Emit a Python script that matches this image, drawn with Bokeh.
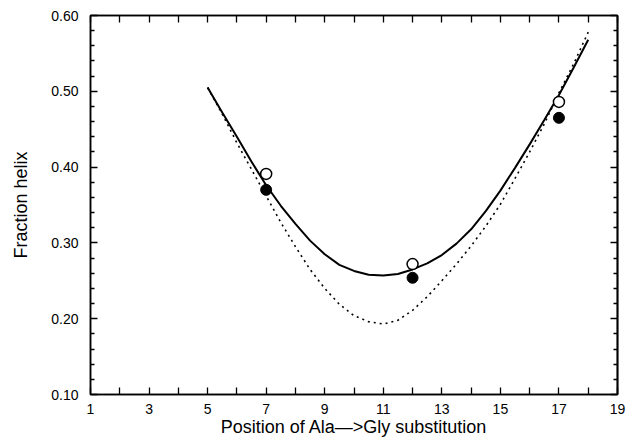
from bokeh.plotting import figure
from bokeh.models import LinearAxis, FixedTicker, Range1d
from bokeh.embed import file_html
from bokeh.resources import INLINE

# Measured points
pos = [7, 12, 17]
open_vals = [0.391, 0.272, 0.486]
filled_vals = [0.370, 0.254, 0.465]

# Solid fitted curve
solid_x = [5, 5.5, 6, 6.5, 7, 7.5, 8, 8.5, 9, 9.5, 10, 10.5, 11, 11.5, 12, 12.5,
           13, 13.5, 14, 14.5, 15, 15.5, 16, 16.5, 17, 17.5, 18]
solid_y = [0.505, 0.472, 0.440, 0.407, 0.376, 0.349, 0.325, 0.303, 0.285, 0.271,
           0.263, 0.258, 0.257, 0.259, 0.265, 0.273, 0.284, 0.299, 0.318, 0.342,
           0.369, 0.399, 0.430, 0.462, 0.495, 0.531, 0.568]

# Dotted curve
dot_x = solid_x
dot_y = [0.505, 0.470, 0.432, 0.397, 0.362, 0.327, 0.295, 0.265, 0.240, 0.219,
         0.204, 0.196, 0.193, 0.198, 0.211, 0.229, 0.250, 0.272, 0.296, 0.322,
         0.351, 0.385, 0.420, 0.457, 0.498, 0.536, 0.578]

x_ticks = [1, 3, 5, 7, 9, 11, 13, 15, 17, 19]
x_minor = [2, 4, 6, 8, 10, 12, 14, 16, 18]
x_all = [1, 2, 3, 4, 5, 6, 7, 8, 9, 10, 11, 12, 13, 14, 15, 16, 17, 18, 19]
y_ticks = [0.10, 0.20, 0.30, 0.40, 0.50, 0.60]
y_minor = [0.12, 0.14, 0.16, 0.18, 0.22, 0.24, 0.26, 0.28, 0.32, 0.34, 0.36, 0.38,
           0.42, 0.44, 0.46, 0.48, 0.52, 0.54, 0.56, 0.58]

FONT = "Liberation Sans"

p = figure(width=626, height=440, output_backend="svg", toolbar_location=None,
           x_range=Range1d(1, 19), y_range=Range1d(0.10, 0.60),
           x_axis_location=None, y_axis_location=None,
           min_border_left=90, min_border_right=9, min_border_top=15,
           min_border_bottom=46, background_fill_color="white",
           border_fill_color="white")
p.grid.visible = False
p.outline_line_color = "black"
p.outline_line_width = 1.5

def base(ax):
    ax.axis_line_color = "black"
    ax.axis_line_width = 1.5
    ax.major_tick_in = 7
    ax.major_tick_out = 0
    ax.minor_tick_out = 0
    ax.major_tick_line_width = 1.3
    ax.minor_tick_line_width = 1.3
    ax.major_tick_line_color = "black"
    ax.minor_tick_line_color = "black"

def labelled(ax):
    ax.major_label_text_font = FONT
    ax.major_label_text_font_size = "14px"
    ax.major_label_text_color = "black"
    ax.axis_label_text_font = FONT
    ax.axis_label_text_font_size = "18px"
    ax.axis_label_text_font_style = "normal"
    ax.axis_label_text_color = "black"

xb = LinearAxis(ticker=FixedTicker(ticks=x_ticks, minor_ticks=x_minor),
                axis_label="Position of Ala—>Gly substitution")
base(xb)
labelled(xb)
xb.minor_tick_in = 7
xb.major_label_standoff = 9
xb.axis_label_standoff = 0
p.add_layout(xb, "below")

# top axis: ticks only (all as minor ticks, no labels)
xa = LinearAxis(ticker=FixedTicker(ticks=[], minor_ticks=x_all))
base(xa)
xa.minor_tick_in = 7
p.add_layout(xa, "above")

yl = LinearAxis(ticker=FixedTicker(ticks=y_ticks, minor_ticks=y_minor),
                axis_label="Fraction helix")
base(yl)
labelled(yl)
yl.minor_tick_in = 4
yl.major_label_standoff = 12
yl.axis_label_standoff = 17
yl.major_label_overrides = {v: f"{v:.2f}" for v in y_ticks}
p.add_layout(yl, "left")

# right axis: ticks only
yr = LinearAxis(ticker=FixedTicker(ticks=[], minor_ticks=y_minor))
base(yr)
yr.minor_tick_in = 4
p.add_layout(yr, "right")
yr2 = LinearAxis(ticker=FixedTicker(ticks=[], minor_ticks=y_ticks))
base(yr2)
yr2.minor_tick_in = 7
p.add_layout(yr2, "right")

p.line(dot_x, dot_y, line_color="black", line_width=1.6, line_dash="2 4")
p.line(solid_x, solid_y, line_color="black", line_width=2)
p.scatter(pos, filled_vals, marker="circle", size=11, fill_color="black",
          line_color="black")
p.scatter(pos, open_vals, marker="circle", size=11, fill_color="white",
          line_color="black", line_width=1.5)

open("out.html", "w").write(file_html(p, INLINE))
